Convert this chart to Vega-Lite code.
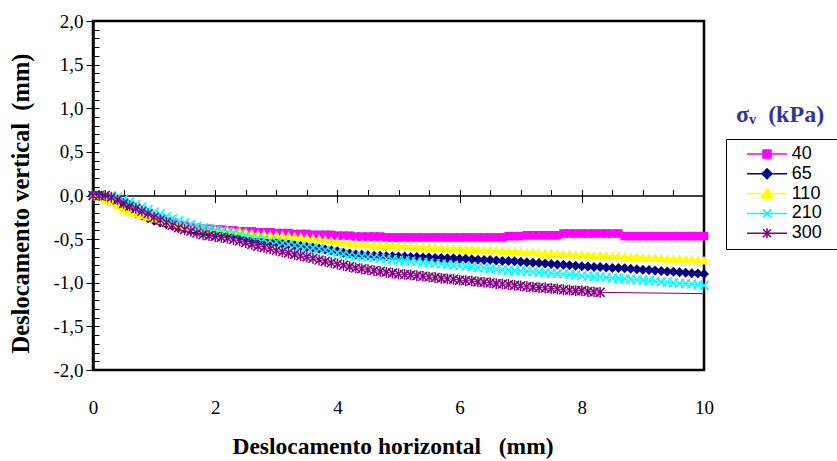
{
  "$schema": "https://vega.github.io/schema/vega-lite/v6.json",
  "width": 611,
  "height": 349,
  "autosize": "none",
  "padding": {"left": 93, "top": 21, "right": 133, "bottom": 91},
  "background": "white",
  "config": {
    "view": {"stroke": "black", "strokeWidth": 2.5},
    "axis": {"grid": false, "domainColor": "black", "tickColor": "black", "labelColor": "black", "titleColor": "black", "tickWidth": 1}
  },
  "title": {"text": "σᵥ\u00a0\u00a0(kPa)", "anchor": "end", "frame": "group", "align": "center", "baseline": "middle", "dx": 76, "dy": 127, "offset": 0, "font": "Liberation Serif", "fontSize": 24, "fontWeight": "bold", "color": "#333399"},
  "data": {"values": [
    {"x":0,"40":0,"65":0,"110":0,"210":0,"300":0},
    {"x":0.1,"40":0,"65":0,"110":-0.01,"210":0,"300":0},
    {"x":0.2,"40":-0.02,"65":-0.02,"110":-0.04,"210":0,"300":0},
    {"x":0.3,"40":-0.05,"65":-0.05,"110":-0.07,"210":0,"300":-0.02},
    {"x":0.4,"40":-0.08,"65":-0.09,"110":-0.11,"210":-0.02,"300":-0.05},
    {"x":0.5,"40":-0.11,"65":-0.13,"110":-0.15,"210":-0.04,"300":-0.09},
    {"x":0.6,"40":-0.15,"65":-0.17,"110":-0.18,"210":-0.07,"300":-0.12},
    {"x":0.7,"40":-0.18,"65":-0.2,"110":-0.2,"210":-0.1,"300":-0.15},
    {"x":0.8,"40":-0.21,"65":-0.23,"110":-0.22,"210":-0.13,"300":-0.18},
    {"x":0.9,"40":-0.24,"65":-0.26,"110":-0.24,"210":-0.16,"300":-0.21},
    {"x":1.0,"40":-0.26,"65":-0.29,"110":-0.26,"210":-0.19,"300":-0.25},
    {"x":1.1,"40":-0.28,"65":-0.31,"110":-0.28,"210":-0.21,"300":-0.28},
    {"x":1.2,"40":-0.3,"65":-0.33,"110":-0.3,"210":-0.24,"300":-0.31},
    {"x":1.3,"40":-0.32,"65":-0.35,"110":-0.32,"210":-0.26,"300":-0.34},
    {"x":1.4,"40":-0.34,"65":-0.37,"110":-0.33,"210":-0.29,"300":-0.37},
    {"x":1.5,"40":-0.35,"65":-0.38,"110":-0.35,"210":-0.31,"300":-0.39},
    {"x":1.6,"40":-0.36,"65":-0.4,"110":-0.36,"210":-0.33,"300":-0.41},
    {"x":1.7,"40":-0.37,"65":-0.41,"110":-0.37,"210":-0.35,"300":-0.43},
    {"x":1.8,"40":-0.38,"65":-0.42,"110":-0.38,"210":-0.37,"300":-0.45},
    {"x":1.9,"40":-0.38,"65":-0.43,"110":-0.39,"210":-0.38,"300":-0.46},
    {"x":2.0,"40":-0.39,"65":-0.44,"110":-0.39,"210":-0.4,"300":-0.47},
    {"x":2.1,"40":-0.39,"65":-0.445,"110":-0.4,"210":-0.41,"300":-0.48},
    {"x":2.2,"40":-0.4,"65":-0.45,"110":-0.4,"210":-0.42,"300":-0.49},
    {"x":2.3,"40":-0.4,"65":-0.46,"110":-0.41,"210":-0.43,"300":-0.505},
    {"x":2.4,"40":-0.41,"65":-0.47,"110":-0.41,"210":-0.445,"300":-0.52},
    {"x":2.5,"40":-0.41,"65":-0.48,"110":-0.42,"210":-0.46,"300":-0.54},
    {"x":2.6,"40":-0.41,"65":-0.495,"110":-0.43,"210":-0.475,"300":-0.56},
    {"x":2.7,"40":-0.42,"65":-0.51,"110":-0.44,"210":-0.49,"300":-0.58},
    {"x":2.8,"40":-0.42,"65":-0.52,"110":-0.44,"210":-0.5,"300":-0.595},
    {"x":2.9,"40":-0.42,"65":-0.53,"110":-0.45,"210":-0.515,"300":-0.61},
    {"x":3.0,"40":-0.43,"65":-0.54,"110":-0.45,"210":-0.53,"300":-0.63},
    {"x":3.1,"40":-0.43,"65":-0.55,"110":-0.455,"210":-0.545,"300":-0.645},
    {"x":3.2,"40":-0.43,"65":-0.56,"110":-0.46,"210":-0.56,"300":-0.66},
    {"x":3.3,"40":-0.44,"65":-0.57,"110":-0.465,"210":-0.57,"300":-0.675},
    {"x":3.4,"40":-0.44,"65":-0.58,"110":-0.47,"210":-0.58,"300":-0.69},
    {"x":3.5,"40":-0.44,"65":-0.59,"110":-0.48,"210":-0.59,"300":-0.705},
    {"x":3.6,"40":-0.45,"65":-0.6,"110":-0.485,"210":-0.6,"300":-0.72},
    {"x":3.7,"40":-0.45,"65":-0.61,"110":-0.49,"210":-0.61,"300":-0.74},
    {"x":3.8,"40":-0.45,"65":-0.62,"110":-0.5,"210":-0.625,"300":-0.755},
    {"x":3.9,"40":-0.45,"65":-0.63,"110":-0.51,"210":-0.64,"300":-0.77},
    {"x":4.0,"40":-0.46,"65":-0.64,"110":-0.52,"210":-0.655,"300":-0.785},
    {"x":4.1,"40":-0.46,"65":-0.655,"110":-0.53,"210":-0.67,"300":-0.8},
    {"x":4.2,"40":-0.46,"65":-0.665,"110":-0.54,"210":-0.685,"300":-0.815},
    {"x":4.3,"40":-0.47,"65":-0.675,"110":-0.545,"210":-0.695,"300":-0.83},
    {"x":4.4,"40":-0.47,"65":-0.68,"110":-0.55,"210":-0.7,"300":-0.84},
    {"x":4.5,"40":-0.47,"65":-0.685,"110":-0.555,"210":-0.705,"300":-0.85},
    {"x":4.6,"40":-0.47,"65":-0.69,"110":-0.56,"210":-0.71,"300":-0.86},
    {"x":4.7,"40":-0.47,"65":-0.69,"110":-0.56,"210":-0.72,"300":-0.87},
    {"x":4.8,"40":-0.48,"65":-0.695,"110":-0.565,"210":-0.725,"300":-0.88},
    {"x":4.9,"40":-0.48,"65":-0.695,"110":-0.565,"210":-0.735,"300":-0.89},
    {"x":5.0,"40":-0.48,"65":-0.7,"110":-0.57,"210":-0.74,"300":-0.9},
    {"x":5.1,"40":-0.48,"65":-0.7,"110":-0.575,"210":-0.745,"300":-0.905},
    {"x":5.2,"40":-0.48,"65":-0.705,"110":-0.575,"210":-0.75,"300":-0.91},
    {"x":5.3,"40":-0.48,"65":-0.705,"110":-0.58,"210":-0.76,"300":-0.92},
    {"x":5.4,"40":-0.48,"65":-0.71,"110":-0.585,"210":-0.765,"300":-0.925},
    {"x":5.5,"40":-0.48,"65":-0.71,"110":-0.585,"210":-0.77,"300":-0.935},
    {"x":5.6,"40":-0.48,"65":-0.715,"110":-0.59,"210":-0.78,"300":-0.94},
    {"x":5.7,"40":-0.48,"65":-0.715,"110":-0.595,"210":-0.785,"300":-0.95},
    {"x":5.8,"40":-0.48,"65":-0.72,"110":-0.6,"210":-0.79,"300":-0.955},
    {"x":5.9,"40":-0.48,"65":-0.72,"110":-0.6,"210":-0.8,"300":-0.96},
    {"x":6.0,"40":-0.48,"65":-0.725,"110":-0.605,"210":-0.805,"300":-0.97},
    {"x":6.1,"40":-0.48,"65":-0.725,"110":-0.61,"210":-0.81,"300":-0.975},
    {"x":6.2,"40":-0.48,"65":-0.73,"110":-0.61,"210":-0.815,"300":-0.98},
    {"x":6.3,"40":-0.48,"65":-0.735,"110":-0.615,"210":-0.825,"300":-0.99},
    {"x":6.4,"40":-0.48,"65":-0.74,"110":-0.62,"210":-0.83,"300":-0.995},
    {"x":6.5,"40":-0.48,"65":-0.74,"110":-0.62,"210":-0.84,"300":-1.0},
    {"x":6.6,"40":-0.48,"65":-0.745,"110":-0.625,"210":-0.845,"300":-1.01},
    {"x":6.7,"40":-0.48,"65":-0.75,"110":-0.63,"210":-0.85,"300":-1.015},
    {"x":6.8,"40":-0.465,"65":-0.75,"110":-0.63,"210":-0.855,"300":-1.02},
    {"x":6.9,"40":-0.465,"65":-0.755,"110":-0.635,"210":-0.86,"300":-1.03},
    {"x":7.0,"40":-0.465,"65":-0.76,"110":-0.64,"210":-0.865,"300":-1.035},
    {"x":7.1,"40":-0.455,"65":-0.765,"110":-0.645,"210":-0.87,"300":-1.045},
    {"x":7.2,"40":-0.455,"65":-0.77,"110":-0.645,"210":-0.875,"300":-1.05},
    {"x":7.3,"40":-0.455,"65":-0.775,"110":-0.65,"210":-0.88,"300":-1.055},
    {"x":7.4,"40":-0.455,"65":-0.78,"110":-0.655,"210":-0.885,"300":-1.06},
    {"x":7.5,"40":-0.455,"65":-0.785,"110":-0.655,"210":-0.89,"300":-1.065},
    {"x":7.6,"40":-0.455,"65":-0.79,"110":-0.66,"210":-0.895,"300":-1.07},
    {"x":7.7,"40":-0.435,"65":-0.795,"110":-0.665,"210":-0.9,"300":-1.08},
    {"x":7.8,"40":-0.435,"65":-0.8,"110":-0.665,"210":-0.905,"300":-1.085},
    {"x":7.9,"40":-0.435,"65":-0.805,"110":-0.67,"210":-0.91,"300":-1.09},
    {"x":8.0,"40":-0.435,"65":-0.81,"110":-0.67,"210":-0.92,"300":-1.09},
    {"x":8.1,"40":-0.435,"65":-0.815,"110":-0.675,"210":-0.925,"300":-1.1},
    {"x":8.2,"40":-0.435,"65":-0.82,"110":-0.68,"210":-0.93,"300":-1.105},
    {"x":8.3,"40":-0.435,"65":-0.82,"110":-0.68,"210":-0.935,"300":-1.11},
    {"x":8.4,"40":-0.435,"65":-0.825,"110":-0.685,"210":-0.94},
    {"x":8.5,"40":-0.435,"65":-0.83,"110":-0.69,"210":-0.945},
    {"x":8.6,"40":-0.435,"65":-0.83,"110":-0.69,"210":-0.95},
    {"x":8.7,"40":-0.465,"65":-0.835,"110":-0.695,"210":-0.955},
    {"x":8.8,"40":-0.465,"65":-0.84,"110":-0.7,"210":-0.96},
    {"x":8.9,"40":-0.465,"65":-0.845,"110":-0.7,"210":-0.965},
    {"x":9.0,"40":-0.465,"65":-0.85,"110":-0.705,"210":-0.97},
    {"x":9.1,"40":-0.465,"65":-0.855,"110":-0.71,"210":-0.975},
    {"x":9.2,"40":-0.465,"65":-0.86,"110":-0.71,"210":-0.98},
    {"x":9.3,"40":-0.465,"65":-0.865,"110":-0.715,"210":-0.99},
    {"x":9.4,"40":-0.465,"65":-0.87,"110":-0.72,"210":-0.995},
    {"x":9.5,"40":-0.465,"65":-0.875,"110":-0.72,"210":-1.0},
    {"x":9.6,"40":-0.465,"65":-0.88,"110":-0.725,"210":-1.005},
    {"x":9.7,"40":-0.465,"65":-0.885,"110":-0.73,"210":-1.01},
    {"x":9.8,"40":-0.465,"65":-0.89,"110":-0.73,"210":-1.015},
    {"x":9.9,"40":-0.465,"65":-0.895,"110":-0.735,"210":-1.02},
    {"x":10.0,"40":-0.465,"65":-0.9,"110":-0.74,"210":-1.03,"300":-1.125}
  ]},
  "transform": [
    {"fold": ["40", "65", "110", "210", "300"], "as": ["s", "v"]},
    {"filter": "isValid(datum.v)"}
  ],
  "layer": [
    {
      "transform": [{"filter": "datum.s === '40'"}],
      "mark": {"type": "line", "strokeWidth": 1, "color": "#FF00FF"},
      "encoding": {
        "x": {"field": "x", "type": "quantitative", "scale": {"domain": [0, 10], "nice": false},
          "axis": {"orient": "bottom", "values": [0, 2, 4, 6, 8, 10], "domain": false, "ticks": false, "labelPadding": 28, "labelFont": "Liberation Serif", "labelFontSize": 19, "labelFlush": false, "format": "d",
            "title": "Deslocamento horizontal\u00a0\u00a0\u00a0(mm)", "titleFont": "Liberation Serif", "titleFontSize": 23.5, "titleFontWeight": "bold", "titlePadding": 17, "titleX": 299.5}},
        "y": {"field": "v", "type": "quantitative", "scale": {"domain": [-2, 2], "nice": false},
          "axis": {"orient": "left", "values": [-2, -1.5, -1, -0.5, 0, 0.5, 1, 1.5, 2], "tickSize": 7, "labelPadding": 3, "labelFont": "Liberation Serif", "labelFontSize": 19, "domainWidth": 2.5,
            "labelExpr": "(datum.value < 0 ? '-' : '') + replace(format(abs(datum.value), '.1f'), '.', ',')",
            "title": "Deslocamento vertical\u00a0\u00a0(mm)", "titleFont": "Liberation Serif", "titleFontSize": 24.5, "titleFontWeight": "bold", "titlePadding": 19, "titleY": 182}}
      }
    },
    {
      "transform": [{"filter": "datum.s === '65'"}],
      "mark": {"type": "line", "strokeWidth": 1, "color": "#000080"},
      "encoding": {
        "x": {"field": "x", "type": "quantitative", "axis": null},
        "y": {"field": "v", "type": "quantitative", "axis": null}
      }
    },
    {
      "transform": [{"filter": "datum.s === '110'"}],
      "mark": {"type": "line", "strokeWidth": 1, "color": "#FFFF00"},
      "encoding": {
        "x": {"field": "x", "type": "quantitative", "axis": null},
        "y": {"field": "v", "type": "quantitative", "axis": null}
      }
    },
    {
      "transform": [{"filter": "datum.s === '210'"}],
      "mark": {"type": "line", "strokeWidth": 1, "color": "#00FFFF"},
      "encoding": {
        "x": {"field": "x", "type": "quantitative", "axis": null},
        "y": {"field": "v", "type": "quantitative", "axis": null}
      }
    },
    {
      "transform": [{"filter": "datum.s === '300'"}],
      "mark": {"type": "line", "strokeWidth": 1, "color": "#800080"},
      "encoding": {
        "x": {"field": "x", "type": "quantitative", "axis": null},
        "y": {"field": "v", "type": "quantitative", "axis": null}
      }
    },
    {
      "transform": [{"filter": "datum.s === '40'"}],
      "mark": {"type": "point", "shape": "square", "filled": true, "opacity": 1, "size": 72, "color": "#FF00FF"},
      "encoding": {
        "x": {"field": "x", "type": "quantitative",
          "axis": {"orient": "bottom", "offset": -174.5, "values": [0.5, 1, 1.5, 2, 2.5, 3, 3.5, 4, 4.5, 5, 5.5, 6, 6.5, 7, 7.5, 8, 8.5, 9, 9.5], "tickSize": -6, "labels": false, "domain": true, "domainWidth": 1.5, "title": null}},
        "y": {"field": "v", "type": "quantitative",
          "axis": {"orient": "left", "values": [-2, -1.9, -1.8, -1.7, -1.6, -1.5, -1.4, -1.3, -1.2, -1.1, -1, -0.9, -0.8, -0.7, -0.6, -0.5, -0.4, -0.3, -0.2, -0.1, 0, 0.1, 0.2, 0.3, 0.4, 0.5, 0.6, 0.7, 0.8, 0.9, 1, 1.1, 1.2, 1.3, 1.4, 1.5, 1.6, 1.7, 1.8, 1.9, 2], "tickSize": -6, "labels": false, "domain": false, "title": null}}
      }
    },
    {
      "transform": [{"filter": "datum.s === '65'"}],
      "mark": {"type": "point", "shape": "diamond", "filled": true, "opacity": 1, "size": 100, "color": "#000080"},
      "encoding": {
        "x": {"field": "x", "type": "quantitative",
          "axis": {"orient": "bottom", "offset": -174.5, "values": [2, 4, 6, 8], "tickSize": 7, "labels": false, "domain": false, "title": null}},
        "y": {"field": "v", "type": "quantitative", "axis": null}
      }
    },
    {
      "transform": [{"filter": "datum.s === '110'"}],
      "mark": {"type": "point", "shape": "triangle-up", "filled": true, "opacity": 1, "size": 100, "color": "#FFFF00"},
      "encoding": {
        "x": {"field": "x", "type": "quantitative", "axis": null},
        "y": {"field": "v", "type": "quantitative", "axis": null}
      }
    },
    {
      "transform": [{"filter": "datum.s === '210'"}],
      "mark": {"type": "point", "shape": "M-1,-1L1,1M-1,1L1,-1", "filled": false, "opacity": 1, "size": 81, "strokeWidth": 1.5, "color": "#00FFFF"},
      "encoding": {
        "x": {"field": "x", "type": "quantitative", "axis": null},
        "y": {"field": "v", "type": "quantitative", "axis": null}
      }
    },
    {
      "transform": [{"filter": "datum.s === '300' && datum.x <= 8.35"}],
      "mark": {"type": "point", "shape": "M-1,-1L1,1M-1,1L1,-1M0,-1.2L0,1.2", "filled": false, "opacity": 1, "size": 81, "strokeWidth": 1.5, "color": "#800080"},
      "encoding": {
        "x": {"field": "x", "type": "quantitative", "axis": null},
        "y": {"field": "v", "type": "quantitative", "axis": null}
      }
    },
    {
      "transform": [{"filter": "datum.x > 99"}],
      "mark": {"type": "point", "filled": true, "opacity": 1, "strokeWidth": 1.5},
      "encoding": {
        "x": {"field": "x", "type": "quantitative", "axis": null},
        "y": {"field": "v", "type": "quantitative", "axis": null},
        "fill": {"field": "s", "type": "nominal", "scale": {"domain": ["40", "65", "110", "210", "300"], "range": ["#FF00FF", "#000080", "#FFFF00", "#00FFFF", "#800080"]},
          "legend": {"orient": "none", "legendX": 633, "legendY": 118, "title": null, "strokeColor": "black", "fillColor": "white", "padding": 6, "symbolSize": 100, "symbolStrokeWidth": 1.5, "symbolOffset": 26, "labelOffset": 15.7, "labelFont": "Liberation Sans", "labelFontSize": 18, "labelColor": "black", "rowPadding": 1.8}},
        "stroke": {"field": "s", "type": "nominal", "scale": {"domain": ["40", "65", "110", "210", "300"], "range": ["#FF00FF", "#000080", "#FFFF00", "#00FFFF", "#800080"]}},
        "shape": {"field": "s", "type": "nominal", "scale": {"domain": ["40", "65", "110", "210", "300"], "range": [
          "M-4,0H4M-0.8,-0.8H0.8V0.8H-0.8ZM12.4,0",
          "M-4,0H4M0,-1L1,0L0,1L-1,0ZM12.4,0",
          "M-4,0H4M0,-1.1L1.1,0.9H-1.1ZM12.4,0",
          "M-4,0H4M-0.8,-0.8L0.8,0.8M-0.8,0.8L0.8,-0.8M12.4,0",
          "M-4,0H4M-0.8,-0.8L0.8,0.8M-0.8,0.8L0.8,-0.8M0,-1L0,1M12.4,0"
        ]}}
      }
    }
  ],
  "resolve": {"axis": {"x": "independent", "y": "independent"}}
}
